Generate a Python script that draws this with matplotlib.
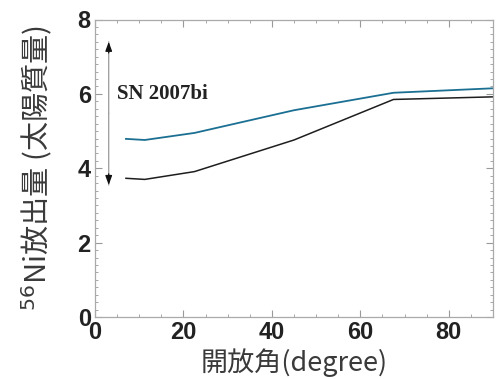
import matplotlib
matplotlib.use("Agg")
import matplotlib.pyplot as plt
from matplotlib.ticker import MultipleLocator

angles = [7.0, 11.25, 22.5, 45.0, 67.5, 90.0]
ni_blue = [4.79, 4.76, 4.95, 5.56, 6.03, 6.15]
ni_black = [3.73, 3.70, 3.91, 4.76, 5.85, 5.92]
arrow_x = 3.1
arrow_range = [3.55, 7.4]
label_sn = "SN 2007bi"

fig = plt.figure(figsize=(4.96, 3.79), dpi=100)
ax = fig.add_axes([95/496, 1-317/379, 398/496, (317-19.5)/379])

ax.plot(angles, ni_blue, color="#1b6f92", lw=1.3)
ax.plot(angles, ni_black, color="#1e1e1e", lw=1.1)

mid = arrow_range[0] + 0.5*(arrow_range[1]-arrow_range[0])
for y0 in arrow_range:
    ax.annotate("", xy=(arrow_x, y0), xytext=(arrow_x, mid),
                arrowprops=dict(arrowstyle="-", color="#999999", lw=0.9, shrinkA=0, shrinkB=0))
for y0, dy in [(arrow_range[1], -0.3), (arrow_range[0], 0.3)]:
    ax.annotate("", xy=(arrow_x, y0), xytext=(arrow_x, y0 + dy),
                arrowprops=dict(arrowstyle="-|>,head_length=0.55,head_width=0.2", color="#111111", lw=0.9,
                                shrinkA=0, shrinkB=0))

ax.text(4.9, 6.0, label_sn, family="Liberation Serif", fontweight="bold", fontsize=15,
        color="#222222", va="center", ha="left")

ax.set_xlim(0, 90)
ax.set_ylim(0, 8)
ax.xaxis.set_major_locator(MultipleLocator(20))
ax.xaxis.set_minor_locator(MultipleLocator(5))
ax.yaxis.set_major_locator(MultipleLocator(2))
ax.yaxis.set_minor_locator(MultipleLocator(0.2))
ax.tick_params(which="both", direction="in", top=True, right=True, color="#999999")
ax.tick_params(which="major", length=5, width=0.8)
ax.tick_params(which="minor", length=2.5, width=0.6)
for s in ax.spines.values():
    s.set_color("#aaaaaa")
    s.set_linewidth(0.9)

for lab in ax.get_xticklabels() + ax.get_yticklabels():
    lab.set_family("Liberation Sans")
    lab.set_fontweight("bold")
    lab.set_fontsize(17)
    lab.set_color("#222222")
ax.tick_params(axis="x", pad=3)
ax.tick_params(axis="y", pad=3)

jp = ["Noto Sans CJK JP", "DejaVu Sans"]
ax.set_xlabel("開放角(degree)", family=jp, fontsize=19.5, color="#3a3a3a", labelpad=3)
ax.set_ylabel("$^{56}$Ni放出量 (太陽質量)", family=jp, fontsize=21, color="#3a3a3a", labelpad=16)

fig.savefig("out.png", dpi=100)
